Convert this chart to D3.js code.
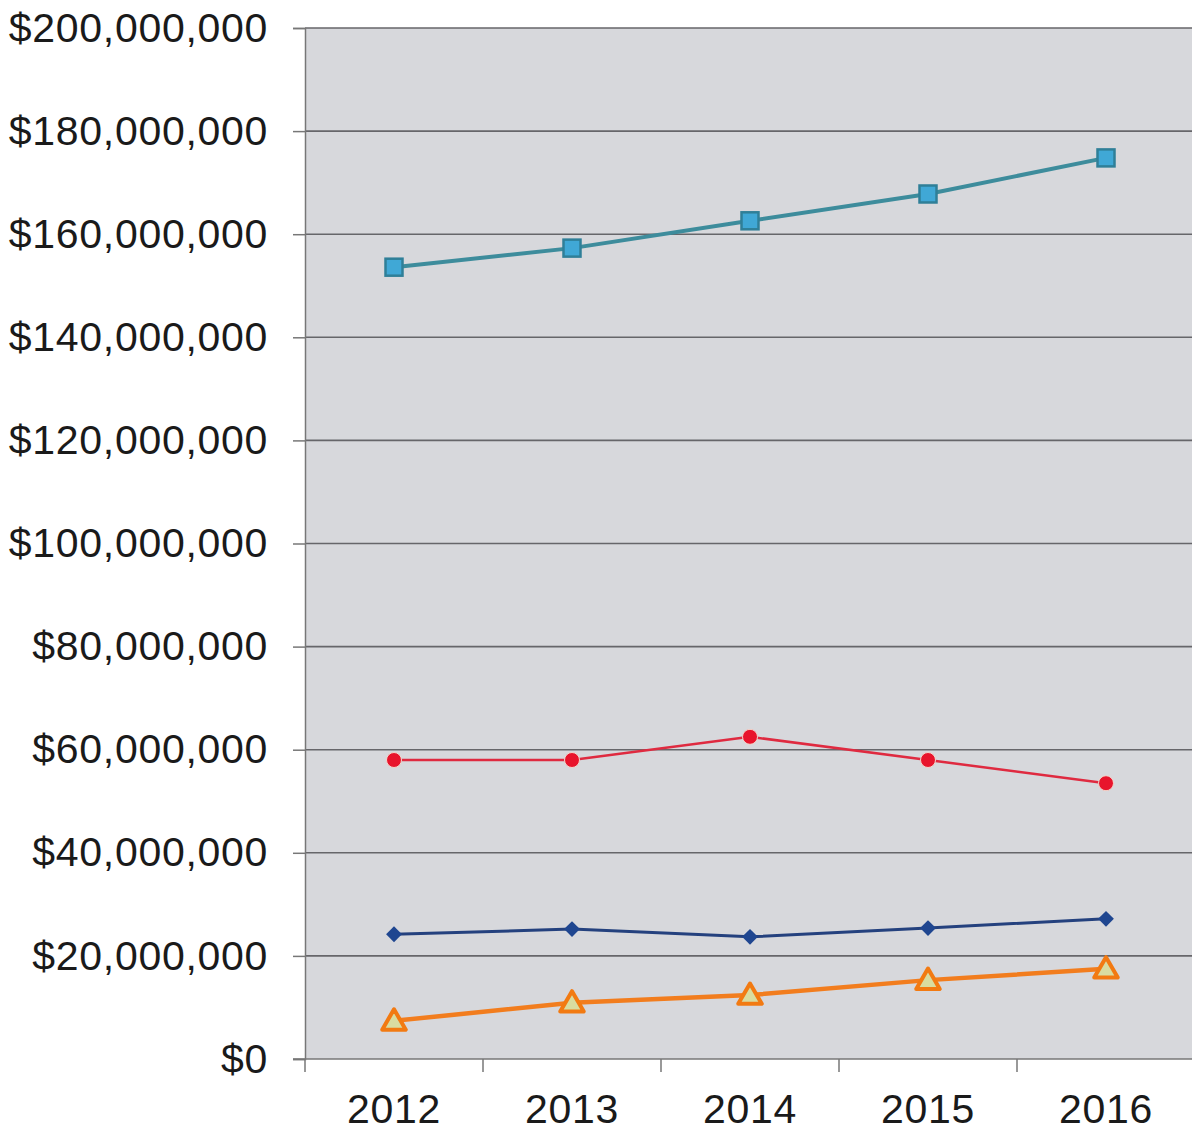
<!DOCTYPE html>
<html>
<head>
<meta charset="utf-8">
<script src="https://cdn.jsdelivr.net/npm/d3@7"></script>
<style>
  body { margin: 0; background: #fff; }
  text { font-family: "Liberation Sans", Arial, sans-serif; }
</style>
</head>
<body>
<svg id="chart"></svg>
<script>
// data
const years = ['2012', '2013', '2014', '2015', '2016']
const yTicks = [0, 20e6, 40e6, 60e6, 80e6, 100e6, 120e6, 140e6, 160e6, 180e6, 200e6]
const squareSeries = [153.6e6, 157.3e6, 162.6e6, 167.8e6, 174.8e6]
const circleSeries = [58.0e6, 58.0e6, 62.5e6, 58.0e6, 53.5e6]
const diamondSeries = [24.2e6, 25.2e6, 23.7e6, 25.4e6, 27.2e6]
const triangleSeries = [7.4e6, 10.9e6, 12.4e6, 15.3e6, 17.5e6]

const width = 1192, height = 1133
const margin = { top: 28, right: -3, bottom: 74, left: 305 }

const svg = d3.select('#chart')
    .attr('width', width)
    .attr('height', height)

const x = d3.scaleBand()
    .domain(years)
    .range([margin.left, width - margin.right])

const y = d3.scaleLinear()
    .domain([0, 200e6])
    .range([height - margin.bottom, margin.top])

// plot background
svg.append('rect')
    .attr('x', margin.left)
    .attr('y', margin.top)
    .attr('width', width - margin.right - margin.left)
    .attr('height', y(0) - margin.top)
    .attr('fill', '#d7d8dc')

// gridlines
svg.append('g')
    .selectAll('line')
    .data(yTicks.slice(1))
    .join('line')
    .attr('x1', margin.left)
    .attr('x2', width)
    .attr('y1', d => y(d))
    .attr('y2', d => y(d))
    .attr('stroke', '#66666a')
    .attr('stroke-width', 1.6)

const fmt = d => '$' + d3.format(',')(d)

let yAxis = g => g
    .attr('transform', `translate(${margin.left},0)`)
    .call(d3.axisLeft(y).tickValues(yTicks).tickFormat(fmt).tickSize(12).tickPadding(25))
    .call(g => g.selectAll('.domain').attr('stroke', '#777').attr('stroke-width', 1.5))
    .call(g => g.selectAll('.tick line').attr('stroke', '#777').attr('stroke-width', 1.5))
    .call(g => g.selectAll('text').attr('font-size', 41).attr('letter-spacing', 0.7).attr('fill', '#1a1a1a')
        .attr('font-family', '"Liberation Sans", Arial, sans-serif'))

let xAxis = g => g
    .attr('transform', `translate(0,${y(0)})`)
    .call(d3.axisBottom(x).tickSize(0).tickPadding(35))
    .call(g => g.select('.domain').remove())
    .call(g => g.selectAll('text').attr('font-size', 41).attr('letter-spacing', 0.7).attr('fill', '#1a1a1a')
        .attr('font-family', '"Liberation Sans", Arial, sans-serif'))

svg.append('g').call(yAxis)
svg.append('g').call(xAxis)

// x axis line and category boundary ticks
svg.append('line')
    .attr('x1', margin.left - 12).attr('x2', width)
    .attr('y1', y(0)).attr('y2', y(0))
    .attr('stroke', '#777').attr('stroke-width', 1.5)
svg.append('g')
    .selectAll('line')
    .data(years)
    .join('line')
    .attr('x1', d => x(d)).attr('x2', d => x(d))
    .attr('y1', y(0)).attr('y2', y(0) + 13)
    .attr('stroke', '#777').attr('stroke-width', 1.5)

const cx = d => x(d) + x.bandwidth() / 2
const line = d3.line().x((d, i) => cx(years[i])).y(d => y(d))

function drawLine(data, color, w) {
    svg.append('path')
        .datum(data)
        .attr('fill', 'none')
        .attr('stroke', color)
        .attr('stroke-width', w)
        .attr('d', line)
}

drawLine(squareSeries, '#3d8c9c', 4)
drawLine(circleSeries, '#df2a40', 2.5)
drawLine(diamondSeries, '#24417e', 3)
drawLine(triangleSeries, '#f27d1e', 4.5)

// markers
svg.append('g').selectAll('rect')
    .data(squareSeries)
    .join('rect')
    .attr('x', (d, i) => cx(years[i]) - 8.5)
    .attr('y', d => y(d) - 8.5)
    .attr('width', 17).attr('height', 17)
    .attr('fill', '#40a8d6')
    .attr('stroke', '#2f7f98')
    .attr('stroke-width', 2.5)

svg.append('g').selectAll('circle')
    .data(circleSeries)
    .join('circle')
    .attr('cx', (d, i) => cx(years[i]))
    .attr('cy', d => y(d))
    .attr('r', 7.5)
    .attr('fill', '#e8142c')
    .attr('stroke', '#f3d6cc')
    .attr('stroke-width', 1)

svg.append('g').selectAll('path')
    .data(diamondSeries)
    .join('path')
    .attr('transform', (d, i) => `translate(${cx(years[i])},${y(d)}) rotate(45)`)
    .attr('d', d3.symbol().type(d3.symbolSquare).size(125))
    .attr('fill', '#1f4690')

svg.append('g').selectAll('path')
    .data(triangleSeries)
    .join('path')
    .attr('transform', (d, i) => `translate(${cx(years[i])},${y(d) + 2})`)
    .attr('d', d3.symbol().type(d3.symbolTriangle).size(240))
    .attr('fill', '#d9dca0')
    .attr('stroke', '#f27a12')
    .attr('stroke-width', 4)
    .attr('stroke-linejoin', 'round')
</script>
</body>
</html>
